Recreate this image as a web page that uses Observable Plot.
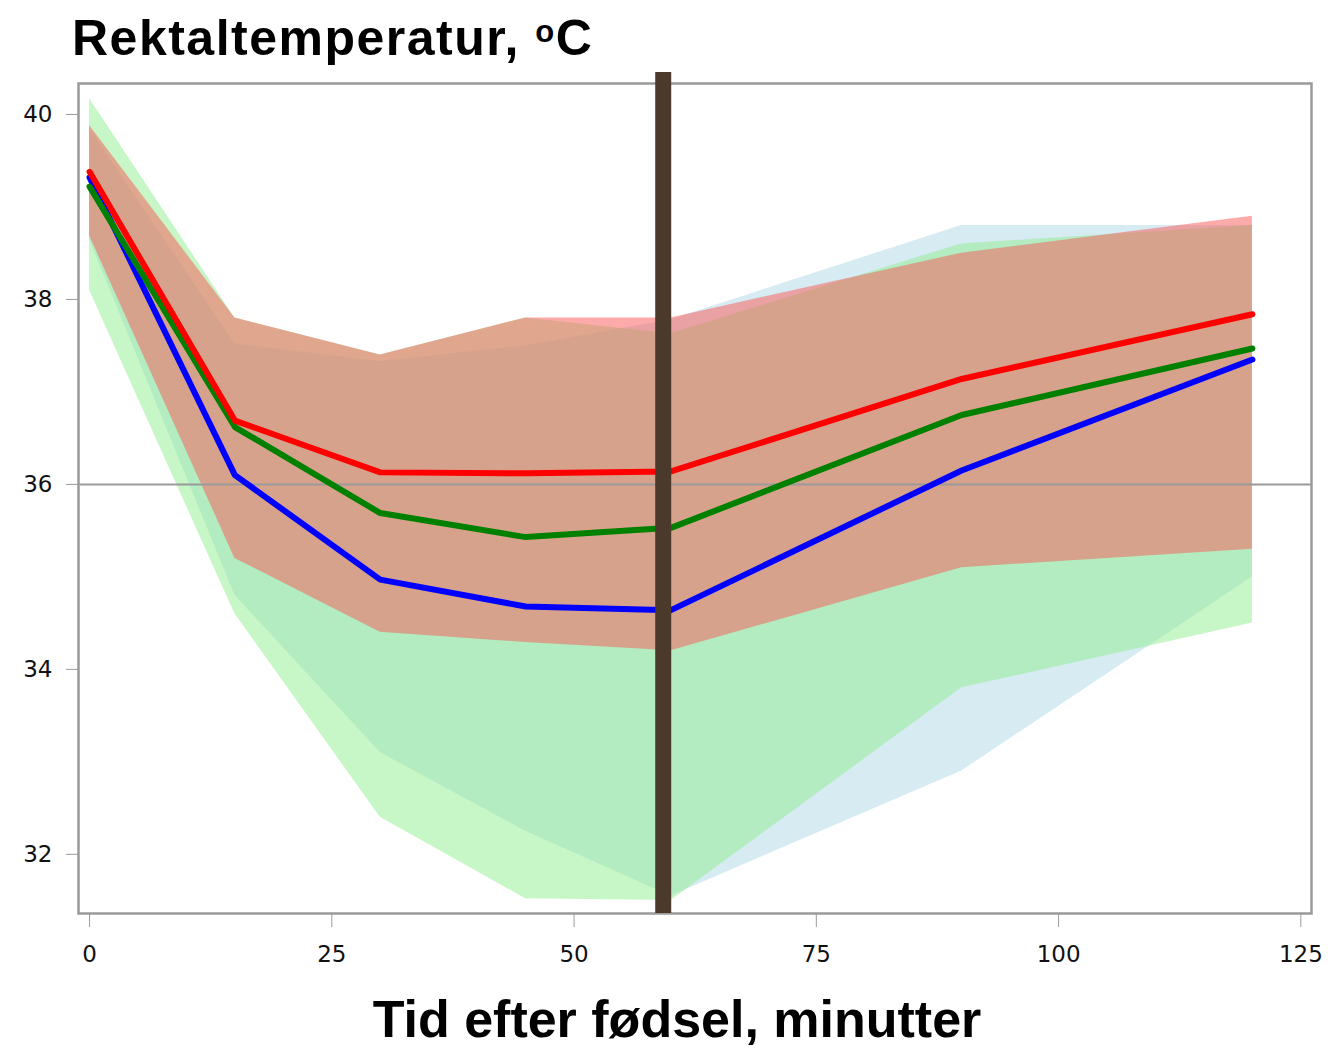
<!DOCTYPE html>
<html>
<head>
<meta charset="utf-8">
<script src="https://cdn.jsdelivr.net/npm/d3@7"></script>
<script src="https://cdn.jsdelivr.net/npm/@observablehq/plot@0.6"></script>
<style>
  body { margin: 0; background: #fff; font-family: "Liberation Sans", Arial, sans-serif; }
  #title { height: 62px; box-sizing: border-box; padding-top: 7px; line-height: 50px; padding-left: 72px;
           font-size: 50px; font-weight: bold; letter-spacing: 1.5px; color: #000; white-space: nowrap; }
  #title .sup { font-size: 0.62em; vertical-align: 0.42em; }
  #xlabel { width: 1337px; box-sizing: border-box; padding-top: 10px; padding-left: 17px; text-align: center;
            line-height: 52px; font-size: 52px; font-weight: bold; color: #000; white-space: nowrap; }
</style>
</head>
<body>
<div id="title">Rektaltemperatur, <span class="sup">o</span>C</div>
<div id="chart"></div>
<div id="xlabel">Tid efter fødsel, minutter</div>
<script>
// tidspunkter (minutter efter fødsel)
const minutes = [0, 15, 30, 45, 60, 90, 120];

// middelværdier
const redMean   = [39.38, 36.69, 36.13, 36.12, 36.14, 37.14, 37.84];
const greenMean = [39.22, 36.62, 35.69, 35.43, 35.53, 36.75, 37.47];
const blueMean  = [39.32, 36.10, 34.97, 34.68, 34.64, 36.15, 37.35];

// bånd (nedre / øvre)
const redLow    = [38.69, 35.20, 34.40, 34.29, 34.20, 35.10, 35.30];
const redHigh   = [39.88, 37.80, 37.40, 37.80, 37.80, 38.50, 38.90];
const greenLow  = [38.10, 34.60, 32.40, 31.52, 31.50, 33.80, 34.50];
const greenHigh = [40.17, 37.80, 37.40, 37.80, 37.63, 38.60, 38.80];
const blueLow   = [38.65, 34.80, 33.10, 32.25, 31.55, 32.90, 35.00];
const blueHigh  = [39.85, 37.52, 37.33, 37.50, 37.78, 38.80, 38.80];

const yTicks = [32, 34, 36, 38, 40];
const xTicks = [0, 25, 50, 75, 100, 125];
const refTemp = 36;
const markerTime = 59.2;

const rows = (mean, lo, hi) => minutes.map((t, i) => ({t, mean: mean[i], lo: lo[i], hi: hi[i]}));
const red = rows(redMean, redLow, redHigh);
const green = rows(greenMean, greenLow, greenHigh);
const blue = rows(blueMean, blueLow, blueHigh);

let chart = Plot.plot({
  width: 1337,
  height: 921,
  marginTop: 21,
  marginBottom: 70,
  marginLeft: 78,
  marginRight: 26,
  style: {fontFamily: "'DejaVu Sans', sans-serif", fontSize: "23px", background: "#fff"},
  x: {domain: [-1.14, 126.1]},
  y: {domain: [31.36, 40.335]},
  marks: [
    Plot.areaY(blue, {x: "t", y1: "lo", y2: "hi", fill: "#add8e6", fillOpacity: 0.5}),
    Plot.areaY(green, {x: "t", y1: "lo", y2: "hi", fill: "#90ee90", fillOpacity: 0.5}),
    Plot.areaY(red, {x: "t", y1: "lo", y2: "hi", fill: "#fb5855", fillOpacity: 0.5}),
    Plot.ruleY([refTemp], {stroke: "#9a9a9a", strokeWidth: 2}),
    Plot.line(blue, {x: "t", y: "mean", stroke: "#0000ff", strokeWidth: 6}),
    Plot.line(green, {x: "t", y: "mean", stroke: "#008000", strokeWidth: 6}),
    Plot.line(red, {x: "t", y: "mean", stroke: "#ff0000", strokeWidth: 6}),
    Plot.frame({stroke: "#9a9a9a", strokeWidth: 2.5}),
    Plot.ruleX([markerTime], {stroke: "#4b3a2c", strokeWidth: 16, insetTop: -11}),
    Plot.axisY({ticks: yTicks, tickSize: 12, tickPadding: 14, stroke: "#9a9a9a", fill: "#111", label: null}),
    Plot.axisX({ticks: xTicks, tickSize: 14, tickPadding: 18, stroke: "#9a9a9a", fill: "#111", label: null})
  ]
});

d3.select('#chart').append(() => chart);
</script>
</body>
</html>
